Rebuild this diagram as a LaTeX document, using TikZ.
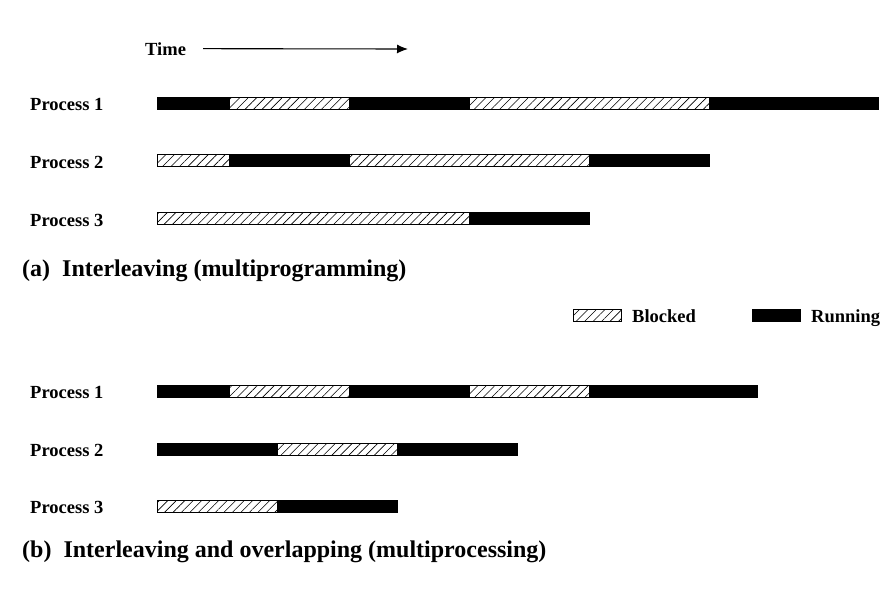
\documentclass[tikz,border=0pt]{standalone}
\usepackage{fontspec}
\setmainfont{Liberation Serif}
\usetikzlibrary{patterns.meta,arrows.meta}
\tikzset{
  runbar/.style={fill=black,draw=black,line width=0.8pt},
  blockbar/.style={draw=black,line width=0.8pt,pattern={Lines[angle=45,distance=6pt,line width=0.6pt]}},
  plabel/.style={anchor=base west,inner sep=0pt,font=\fontsize{18.5}{20}\selectfont\bfseries},
  caption/.style={anchor=base west,inner sep=0pt,font=\fontsize{24}{27}\selectfont\bfseries}
}
\begin{document}
\begin{tikzpicture}[x=1pt,y=-1pt]
    \useasboundingbox (0,0) rectangle (881,592);
    % time axis
    \node[plabel] (time) at (145,55) {Time};
    \coordinate (timeend) at (408,49);
    \draw[line width=1.1pt,-{Latex[length=11pt,width=9pt]}] ([xshift=17pt]time.east) -- (timeend);

    % (a) interleaving
    \node[plabel] (p1a) at (30,110) {Process 1};
    \node[plabel] (p2a) at (30,168) {Process 2};
    \node[plabel] (p3a) at (30,226) {Process 3};
    \draw[runbar] (157,97) rectangle (229,109);
    \draw[blockbar] (229,97) rectangle (349,109);
    \draw[runbar] (349,97) rectangle (469,109);
    \draw[blockbar] (469,97) rectangle (709,109);
    \draw[runbar] (709,97) rectangle (878,109);
    \draw[blockbar] (157,154) rectangle (229,166);
    \draw[runbar] (229,154) rectangle (349,166);
    \draw[blockbar] (349,154) rectangle (589,166);
    \draw[runbar] (589,154) rectangle (709,166);
    \draw[blockbar] (157,212) rectangle (469,224);
    \draw[runbar] (469,212) rectangle (589,224);
    \node[caption] (capa) at (22,276) {(a)\hspace{0.5em}Interleaving (multiprogramming)};

    % legend
    \draw[blockbar] (573,309) rectangle (621,321);
    \node[plabel] (blk) at (632,322) {Blocked};
    \draw[runbar] (752,309) rectangle (800,321);
    \node[plabel] (run) at (811,322) {Running};

    % (b) interleaving and overlapping
    \node[plabel] (p1b) at (30,398) {Process 1};
    \node[plabel] (p2b) at (30,456) {Process 2};
    \node[plabel] (p3b) at (30,513) {Process 3};
    \draw[runbar] (157,385) rectangle (229,397);
    \draw[blockbar] (229,385) rectangle (349,397);
    \draw[runbar] (349,385) rectangle (469,397);
    \draw[blockbar] (469,385) rectangle (589,397);
    \draw[runbar] (589,385) rectangle (757,397);
    \draw[runbar] (157,443) rectangle (277,455);
    \draw[blockbar] (277,443) rectangle (397,455);
    \draw[runbar] (397,443) rectangle (517,455);
    \draw[blockbar] (157,500) rectangle (277,512);
    \draw[runbar] (277,500) rectangle (397,512);
    \node[caption] (capb) at (22,557) {(b)\hspace{0.5em}Interleaving and overlapping (multiprocessing)};
\end{tikzpicture}
\end{document}
